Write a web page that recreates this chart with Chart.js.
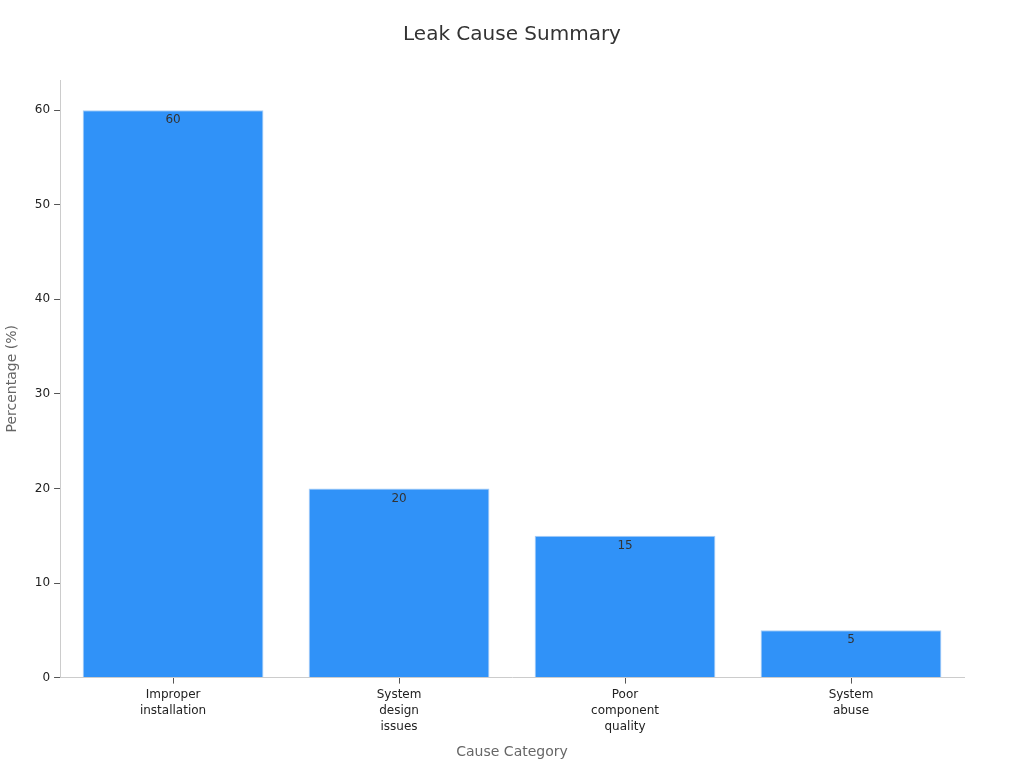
<!DOCTYPE html>
<html>
<head>
<meta charset="utf-8">
<script src="https://cdn.jsdelivr.net/npm/chart.js@4"></script>
<style>
  html, body { margin: 0; padding: 0; background: #fff; }
  #wrap { width: 1024px; height: 768px; }
</style>
</head>
<body>
<div id="wrap"><canvas id="leakChart" width="1024" height="768"></canvas></div>
<script>
// =====> data <=====
const chartTitle = "Leak Cause Summary";
const causeLabels = [
  ["Improper", "installation"],
  ["System", "design", "issues"],
  ["Poor", "component", "quality"],
  ["System", "abuse"],
];
const percentValues = [60, 20, 15, 5];

// draws the value just inside the top of each bar
const barValueLabels = {
  id: "barValueLabels",
  afterDatasetsDraw(chart) {
    const ctx = chart.ctx;
    const meta = chart.getDatasetMeta(0);
    ctx.save();
    ctx.font = "12px 'DejaVu Sans'";
    ctx.fillStyle = "#333";
    ctx.textAlign = "center";
    ctx.textBaseline = "middle";
    meta.data.forEach((bar, i) => {
      ctx.fillText(String(percentValues[i]), bar.x, bar.y + 10);
    });
    ctx.restore();
  },
};

// title centred on the whole canvas, not on the padded box
const centeredTitle = {
  id: "centeredTitle",
  afterDraw(chart) {
    const ctx = chart.ctx;
    ctx.save();
    ctx.font = "20px 'DejaVu Sans'";
    ctx.fillStyle = "#333";
    ctx.textAlign = "center";
    ctx.textBaseline = "middle";
    ctx.fillText(chartTitle, chart.width / 2, 35);
    ctx.restore();
  },
};

Chart.defaults.font.family = "'DejaVu Sans', sans-serif";

new Chart("leakChart", {
  type: "bar",
  data: {
    labels: causeLabels,
    datasets: [
      {
        label: "Percentage",
        data: percentValues,
        backgroundColor: "#3092f8",
        borderColor: "#a9cdf5",
        borderWidth: 1,
        barPercentage: 0.8,
        categoryPercentage: 1.0,
      },
    ],
  },
  options: {
    responsive: false,
    animation: false,
    layout: { padding: { top: 80, right: 60, left: 0, bottom: 3 } },
    plugins: {
      legend: { display: false },
      tooltip: { enabled: false },
      title: { display: false },
    },
    scales: {
      y: {
        min: 0,
        max: 63.2,
        afterBuildTicks: (scale) => {
          scale.ticks = scale.ticks.filter((t) => t.value % 10 === 0);
        },
        ticks: { stepSize: 10, color: "#222", font: { size: 12 }, padding: 4 },
        grid: { drawOnChartArea: false, drawTicks: true, tickLength: 6, color: "#555" },
        border: { display: true, color: "#ccc" },
        title: {
          display: true,
          text: "Percentage (%)",
          color: "#666",
          font: { size: 14 },
          padding: { bottom: 10 },
        },
      },
      x: {
        ticks: {
          color: "#222",
          font: { size: 12, lineHeight: 1.35 },
          padding: 3,
          maxRotation: 0,
        },
        grid: {
          offset: false,
          drawOnChartArea: false,
          drawTicks: true,
          tickLength: 6,
          color: "#555",
        },
        border: { display: true, color: "#ccc" },
        title: {
          display: true,
          text: "Cause Category",
          color: "#666",
          font: { size: 14 },
          padding: { top: 6 },
        },
      },
    },
  },
  plugins: [barValueLabels, centeredTitle],
});
</script>
</body>
</html>
